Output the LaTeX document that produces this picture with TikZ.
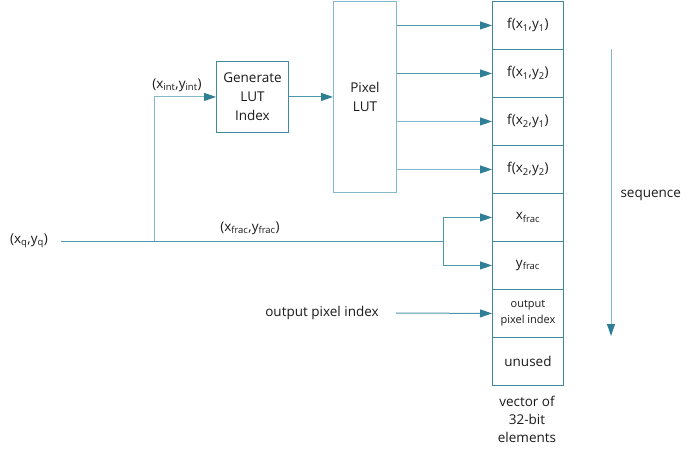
\documentclass[tikz,border=0pt]{standalone}
\usepackage{fontspec}
\setmainfont{Open Sans}
\usetikzlibrary{arrows.meta}
\definecolor{ln}{HTML}{4F97AB}
\definecolor{lnl}{HTML}{86B9C8}
\definecolor{bx}{HTML}{3F899D}
\definecolor{ah}{HTML}{2E7F93}
\definecolor{tx}{HTML}{1A1A1A}
\begin{document}
\begin{tikzpicture}[x=1pt,y=-1pt,
  font=\fontsize{13.5}{19}\selectfont, text=tx,
  cell/.style={draw=bx, line width=0.9pt, minimum width=71pt, minimum height=48pt, inner sep=0pt, anchor=north west, align=center},
  blk/.style={draw=bx, line width=0.9pt, inner sep=0pt, anchor=north west, align=center},
  conn/.style={draw=ln, line width=1pt},
  arr/.style={conn, -{Triangle[length=12pt,width=8pt,fill=ah,color=ah]}}]
\useasboundingbox (0,0) rectangle (690,457);
% vector cells
\node[cell] (c1) at (492,1)   {f(x\textsubscript{1},y\textsubscript{1})};
\node[cell] (c2) at (492,49)  {f(x\textsubscript{1},y\textsubscript{2})};
\node[cell] (c3) at (492,97)  {f(x\textsubscript{2},y\textsubscript{1})};
\node[cell] (c4) at (492,145) {f(x\textsubscript{2},y\textsubscript{2})};
\node[cell] (c5) at (492,193) {x\textsubscript{frac}};
\node[cell] (c6) at (492,241) {y\textsubscript{frac}};
\node[cell, font=\fontsize{11}{16}\selectfont] (c7) at (492,289) {output\\pixel index};
\node[cell] (c8) at (492,337) {unused};
% blocks
\node[blk, draw=lnl, minimum width=63pt, minimum height=191pt] (lut) at (333,1) {Pixel\\LUT};
\node[blk, minimum width=72pt, minimum height=71pt] (gen) at (216,61) {Generate\\LUT\\Index};
% labels
\node (q) at (29,241) {(x\textsubscript{q},y\textsubscript{q})};
\node (int) at (177,85) {(x\textsubscript{int},y\textsubscript{int})};
\node (frac) at (250,228) {(x\textsubscript{frac},y\textsubscript{frac})};
\node (opi) at (322,313) {output pixel index};
\node[anchor=west] (seq) at (617,195) {sequence};
\node[align=center, font=\fontsize{13.5}{18}\selectfont] (cap) at (527,419) {vector of\\32-bit\\elements};
% coordinates
\coordinate (qin) at (61,241);
\coordinate (j1) at (154,241);
\coordinate (j2) at (443,241);
\coordinate (opis) at (396,313);
\coordinate (s1) at (611,49);
\coordinate (s2) at (611,336);
% connectors
\draw[conn] (qin) -- (j2);
\draw[arr, draw=lnl] (j1) |- (gen.west);
\draw[arr] (gen.east) -- (gen.east -| lut.west);
\draw[arr] (lut.east |- c1.west) -- (c1.west);
\draw[arr] (lut.east |- c2.west) -- (c2.west);
\draw[arr, draw=lnl] (lut.east |- c3.west) -- (c3.west);
\draw[arr, draw=lnl] (lut.east |- c4.west) -- (c4.west);
\draw[arr] (j2) |- (c5.west);
\draw[arr] (j2) |- (c6.west);
\draw[arr] (opis) -- (c7.west);
\draw[arr, draw=lnl] (s1) -- (s2);
\end{tikzpicture}
\end{document}
